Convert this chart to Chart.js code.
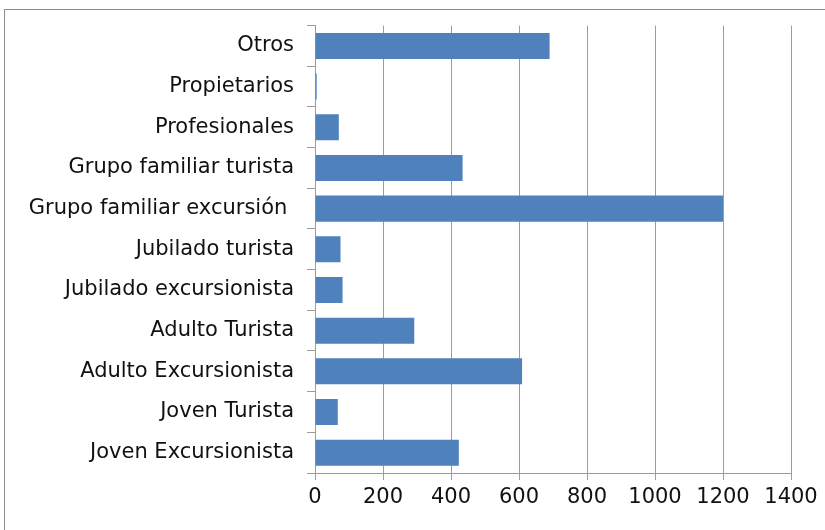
<!DOCTYPE html>
<html>
<head>
<meta charset="utf-8">
<script src="https://cdn.jsdelivr.net/npm/chart.js@4"></script>
<style>
  html, body { margin: 0; padding: 0; background: #ffffff; }
  #wrap { position: relative; width: 825px; height: 530px; }
</style>
</head>
<body>
<div id="wrap"><canvas id="grupos" width="825" height="530"></canvas></div>
<script>
// visitor groups, top to bottom
var categorias = [
    "Otros",
    "Propietarios",
    "Profesionales",
    "Grupo familiar turista",
    "Grupo familiar excursión ",
    "Jubilado turista",
    "Jubilado excursionista",
    "Adulto Turista",
    "Adulto Excursionista",
    "Joven Turista",
    "Joven Excursionista"
];
var valores = [690, 5, 70, 434, 1200, 75, 81, 292, 609, 67, 423];
var ticksX = [0, 200, 400, 600, 800, 1000, 1200, 1400];

var gris = '#9c9c9c';

// thin frame around the whole figure
var marco = {
    id: 'marco',
    beforeDraw: function (chart) {
        var c = chart.ctx;
        c.save();
        c.strokeStyle = '#8c8c8c';
        c.lineWidth = 1;
        c.strokeRect(4.5, 9.5, 900, 600);
        c.restore();
    }
};

var ctx = document.getElementById('grupos').getContext('2d');
var chart = new Chart(ctx, {
    type: 'bar',
    data: {
        labels: categorias,
        datasets: [{
            data: valores,
            backgroundColor: '#4f81bd',
            borderWidth: 0,
            categoryPercentage: 1,
            barPercentage: 0.64
        }]
    },
    plugins: [marco],
    options: {
        indexAxis: 'y',
        responsive: false,
        animation: false,
        layout: { padding: { top: 23, right: 34, bottom: 0, left: 0 } },
        plugins: {
            legend: { display: false },
            tooltip: { enabled: false }
        },
        scales: {
            x: {
                min: 0,
                max: 1400,
                afterBuildTicks: function (axis) {
                    axis.ticks = ticksX.map(function (v) { return { value: v }; });
                },
                afterFit: function (axis) { axis.height = 57; },
                grid: { color: gris, lineWidth: 1, tickLength: 7 },
                border: { color: gris },
                ticks: {
                    color: '#111111',
                    padding: 5,
                    maxRotation: 0,
                    callback: function (v) { return String(v); },
                    font: { family: 'DejaVu Sans', size: 21 }
                }
            },
            y: {
                afterFit: function (axis) { axis.width = 315; },
                grid: { drawOnChartArea: false, color: gris, tickLength: 8 },
                border: { color: gris },
                ticks: {
                    color: '#111111',
                    padding: 13,
                    font: { family: 'DejaVu Sans', size: 21 }
                }
            }
        }
    }
});
</script>
</body>
</html>
